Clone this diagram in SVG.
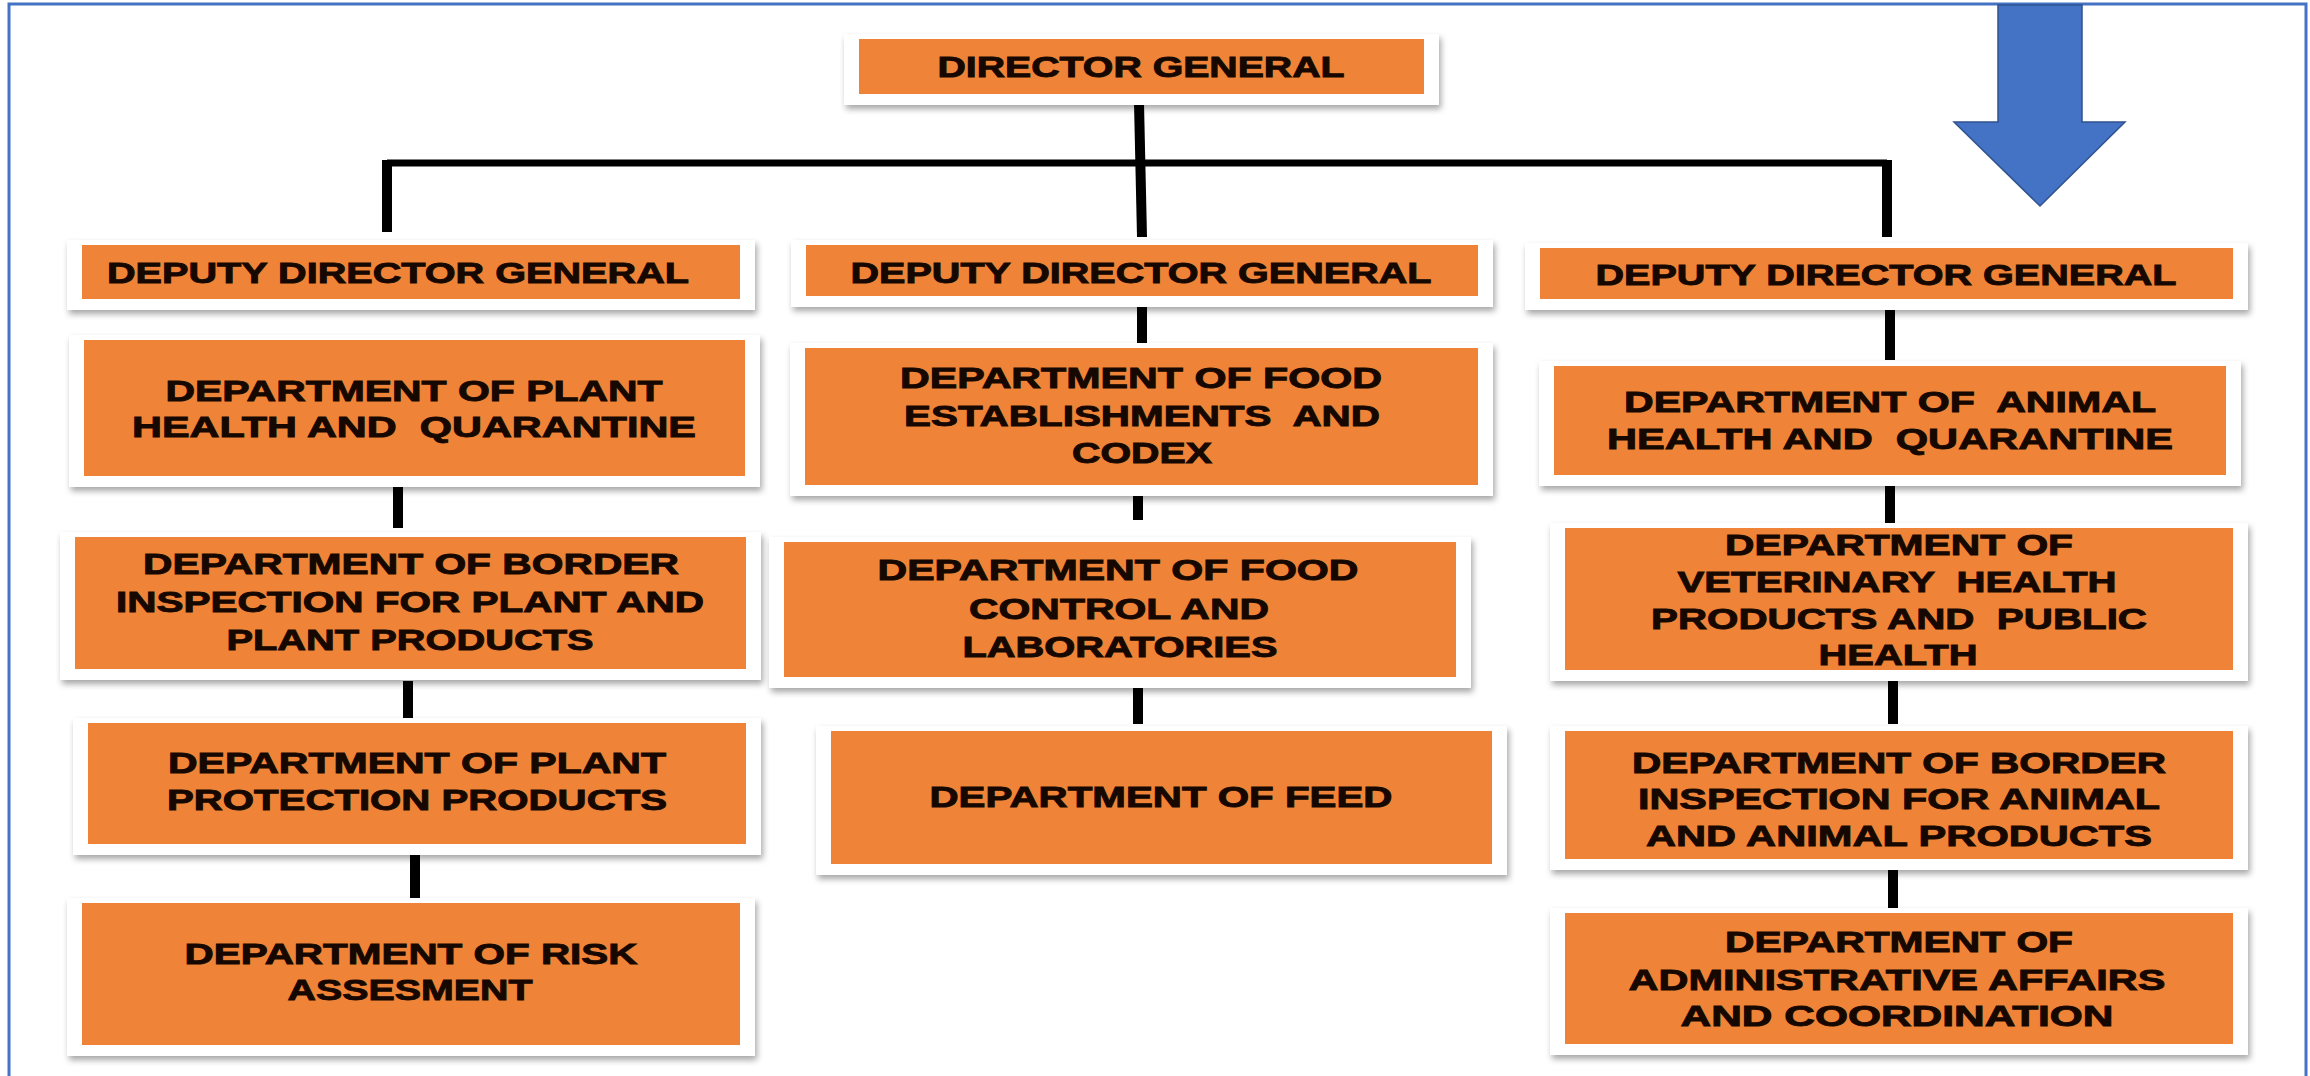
<svg xmlns="http://www.w3.org/2000/svg" width="2310" height="1076" viewBox="0 0 2310 1076">
<defs>
<filter id="sh" x="-5%" y="-20%" width="110%" height="150%">
<feDropShadow dx="2" dy="4" stdDeviation="3" flood-color="#000" flood-opacity="0.35"/>
</filter>
<style>
.frame{fill:#fff;filter:url(#sh)}
.box{fill:#EF8438}
.t{font-family:"Liberation Sans",Arial,sans-serif;font-weight:bold;font-size:29px;fill:#160800;stroke:#160800;stroke-width:0.9px;text-anchor:middle;white-space:pre}
.c{stroke:#000;stroke-width:10;fill:none}
.h{stroke:#000;stroke-width:7;fill:none}
</style>
</defs>
<rect width="2310" height="1076" fill="#fff"/>
<path d="M9,1076 V4 H2306 V1076" fill="none" stroke="#4472C4" stroke-width="3"/>

<g id="connectors">
<path class="h" d="M387,163 H1887"/>
<path class="c" d="M387,160 V232"/>
<path class="c" d="M1887,160 V237"/>
<path class="c" d="M1139,103 L1142,237"/>
<path class="c" d="M1142,302 V350"/>
<path class="c" d="M1138,492 V520"/>
<path class="c" d="M1138,678 V724"/>
<path class="c" d="M398,486 V528"/>
<path class="c" d="M408,681 V722"/>
<path class="c" d="M415,853 V898"/>
<path class="c" d="M1890,306 V360"/>
<path class="c" d="M1890,484 V524"/>
<path class="c" d="M1893,676 V724"/>
<path class="c" d="M1893,868 V908"/>
</g>

<g id="arrow">
<polygon points="1998,5 2082,5 2082,122 2125,122 2040,206 1954,122 1998,122" fill="#4472C4" stroke="#2F528F" stroke-width="1.5"/>
</g>

<g id="director-general">
<rect class="frame" x="844" y="34" width="595" height="71"/>
<rect class="box" x="859" y="39" width="565" height="55"/>
<text class="t" x="1141" y="77" textLength="407" lengthAdjust="spacingAndGlyphs">DIRECTOR GENERAL</text>
</g>

<g id="ddg-left">
<rect class="frame" x="67" y="240" width="688" height="70"/>
<rect class="box" x="82" y="245" width="658" height="54"/>
<text class="t" x="398" y="283" textLength="582" lengthAdjust="spacingAndGlyphs">DEPUTY DIRECTOR GENERAL</text>
</g>

<g id="ddg-middle">
<rect class="frame" x="791" y="240" width="702" height="67"/>
<rect class="box" x="806" y="245" width="672" height="51"/>
<text class="t" x="1141" y="283" textLength="581" lengthAdjust="spacingAndGlyphs">DEPUTY DIRECTOR GENERAL</text>
</g>

<g id="ddg-right">
<rect class="frame" x="1525" y="243" width="723" height="67"/>
<rect class="box" x="1540" y="248" width="693" height="51"/>
<text class="t" x="1886" y="285" textLength="581" lengthAdjust="spacingAndGlyphs">DEPUTY DIRECTOR GENERAL</text>
</g>

<g id="plant-health">
<rect class="frame" x="69" y="335" width="691" height="152"/>
<rect class="box" x="84" y="340" width="661" height="136"/>
<text class="t" x="414" y="401" textLength="497" lengthAdjust="spacingAndGlyphs">DEPARTMENT OF PLANT</text>
<text class="t" x="414" y="437" textLength="564" lengthAdjust="spacingAndGlyphs">HEALTH AND  QUARANTINE</text>
</g>

<g id="border-plant">
<rect class="frame" x="60" y="532" width="701" height="148"/>
<rect class="box" x="75" y="537" width="671" height="132"/>
<text class="t" x="411" y="574" textLength="536" lengthAdjust="spacingAndGlyphs">DEPARTMENT OF BORDER</text>
<text class="t" x="410" y="612" textLength="588" lengthAdjust="spacingAndGlyphs">INSPECTION FOR PLANT AND</text>
<text class="t" x="410" y="650" textLength="367" lengthAdjust="spacingAndGlyphs">PLANT PRODUCTS</text>
</g>

<g id="plant-protection">
<rect class="frame" x="73" y="718" width="688" height="137"/>
<rect class="box" x="88" y="723" width="658" height="121"/>
<text class="t" x="417" y="773" textLength="498" lengthAdjust="spacingAndGlyphs">DEPARTMENT OF PLANT</text>
<text class="t" x="417" y="810" textLength="500" lengthAdjust="spacingAndGlyphs">PROTECTION PRODUCTS</text>
</g>

<g id="risk">
<rect class="frame" x="67" y="898" width="688" height="158"/>
<rect class="box" x="82" y="903" width="658" height="142"/>
<text class="t" x="411" y="964" textLength="453" lengthAdjust="spacingAndGlyphs">DEPARTMENT OF RISK</text>
<text class="t" x="410" y="1000" textLength="245" lengthAdjust="spacingAndGlyphs">ASSESMENT</text>
</g>

<g id="food-establishments">
<rect class="frame" x="790" y="343" width="703" height="153"/>
<rect class="box" x="805" y="348" width="673" height="137"/>
<text class="t" x="1141" y="388" textLength="482" lengthAdjust="spacingAndGlyphs">DEPARTMENT OF FOOD</text>
<text class="t" x="1142" y="426" textLength="476" lengthAdjust="spacingAndGlyphs">ESTABLISHMENTS  AND</text>
<text class="t" x="1142" y="463" textLength="140" lengthAdjust="spacingAndGlyphs">CODEX</text>
</g>

<g id="food-control">
<rect class="frame" x="769" y="537" width="702" height="151"/>
<rect class="box" x="784" y="542" width="672" height="135"/>
<text class="t" x="1118" y="580" textLength="481" lengthAdjust="spacingAndGlyphs">DEPARTMENT OF FOOD</text>
<text class="t" x="1119" y="619" textLength="300" lengthAdjust="spacingAndGlyphs">CONTROL AND</text>
<text class="t" x="1120" y="657" textLength="315" lengthAdjust="spacingAndGlyphs">LABORATORIES</text>
</g>

<g id="feed">
<rect class="frame" x="816" y="726" width="691" height="149"/>
<rect class="box" x="831" y="731" width="661" height="133"/>
<text class="t" x="1161" y="807" textLength="463" lengthAdjust="spacingAndGlyphs">DEPARTMENT OF FEED</text>
</g>

<g id="animal-health">
<rect class="frame" x="1539" y="361" width="702" height="125"/>
<rect class="box" x="1554" y="366" width="672" height="109"/>
<text class="t" x="1890" y="412" textLength="532" lengthAdjust="spacingAndGlyphs">DEPARTMENT OF  ANIMAL</text>
<text class="t" x="1890" y="449" textLength="566" lengthAdjust="spacingAndGlyphs">HEALTH AND  QUARANTINE</text>
</g>

<g id="veterinary">
<rect class="frame" x="1550" y="523" width="698" height="158"/>
<rect class="box" x="1565" y="528" width="668" height="142"/>
<text class="t" x="1899" y="555" textLength="348" lengthAdjust="spacingAndGlyphs">DEPARTMENT OF</text>
<text class="t" x="1897" y="592" textLength="439" lengthAdjust="spacingAndGlyphs">VETERINARY  HEALTH</text>
<text class="t" x="1899" y="629" textLength="496" lengthAdjust="spacingAndGlyphs">PRODUCTS AND  PUBLIC</text>
<text class="t" x="1898" y="665" textLength="159" lengthAdjust="spacingAndGlyphs">HEALTH</text>
</g>

<g id="border-animal">
<rect class="frame" x="1550" y="726" width="698" height="144"/>
<rect class="box" x="1565" y="731" width="668" height="128"/>
<text class="t" x="1899" y="773" textLength="534" lengthAdjust="spacingAndGlyphs">DEPARTMENT OF BORDER</text>
<text class="t" x="1899" y="809" textLength="522" lengthAdjust="spacingAndGlyphs">INSPECTION FOR ANIMAL</text>
<text class="t" x="1899" y="846" textLength="506" lengthAdjust="spacingAndGlyphs">AND ANIMAL PRODUCTS</text>
</g>

<g id="admin">
<rect class="frame" x="1550" y="908" width="698" height="147"/>
<rect class="box" x="1565" y="913" width="668" height="131"/>
<text class="t" x="1899" y="952" textLength="348" lengthAdjust="spacingAndGlyphs">DEPARTMENT OF</text>
<text class="t" x="1897" y="990" textLength="537" lengthAdjust="spacingAndGlyphs">ADMINISTRATIVE AFFAIRS</text>
<text class="t" x="1897" y="1026" textLength="433" lengthAdjust="spacingAndGlyphs">AND COORDINATION</text>
</g>
</svg>
